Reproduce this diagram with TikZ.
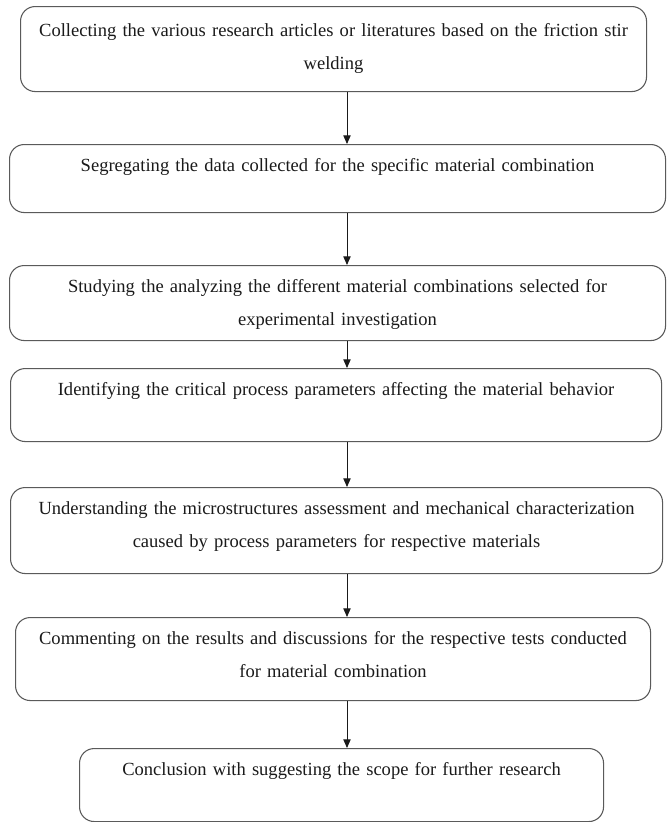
\documentclass[tikz,border=0pt]{standalone}
\usepackage{fontspec}
\setmainfont{Liberation Serif}
\usetikzlibrary{arrows.meta, positioning, calc}
\definecolor{frame}{HTML}{5A5A5A}
\definecolor{ink}{HTML}{1A1A1A}
\tikzset{
  stepbox/.style = {rectangle, rounded corners=11pt, draw=frame, line width=0.8pt,
                    fill=white, align=center, inner sep=0pt, anchor=north west,
                    font=\fontsize{13.9}{24.75}\selectfont, text=ink, text height=20.5pt},
  flow/.style    = {-{Triangle[length=6.5pt, width=5.5pt]}, line width=0.7pt, draw=ink},
}
\begin{document}
\begin{tikzpicture}[x=0.75pt, y=-0.75pt]
\useasboundingbox (0,0) rectangle (667,822);

% ---- Steps ----
\node[stepbox, text width=469.5pt, text height=22.5pt, text depth=41.25pt] (collect) at (20,6)
  {Collecting the various research articles or literatures based on the friction stir\\ welding};

\node[stepbox, text width=492pt, text depth=30.5pt] (segregate) at (9,144)
  {Segregating the data collected for the specific material combination};

\node[stepbox, text width=492pt, text depth=35.75pt] (study) at (9,265)
  {Studying the analyzing the different material combinations selected for\\ experimental investigation};

\node[stepbox, text width=488.25pt, text depth=34.25pt] (identify) at (10,368)
  {Identifying the critical process parameters affecting the material behavior};

\node[stepbox, text width=489pt, text depth=44pt] (understand) at (10,487)
  {Understanding the microstructures assessment and mechanical characterization\\ caused by process parameters for respective materials};

\node[stepbox, text width=476.25pt, text depth=41.75pt] (comment) at (15,617)
  {Commenting on the results and discussions for the respective tests conducted\\ for material combination};

\node[stepbox, text width=393pt, text depth=34.25pt] (conclude) at (79,748)
  {Conclusion with suggesting the scope for further research};

% ===== Spine arrows =====
\coordinate (spine) at (347,0);
\draw[flow] (collect.south -| spine)    -- (segregate.north -| spine);
\draw[flow] (segregate.south -| spine)  -- (study.north -| spine);
\draw[flow] (study.south -| spine)      -- (identify.north -| spine);
\draw[flow] (identify.south -| spine)   -- (understand.north -| spine);
\draw[flow] (understand.south -| spine) -- (comment.north -| spine);
\draw[flow] (comment.south -| spine)    -- (conclude.north -| spine);

\end{tikzpicture}
\end{document}
